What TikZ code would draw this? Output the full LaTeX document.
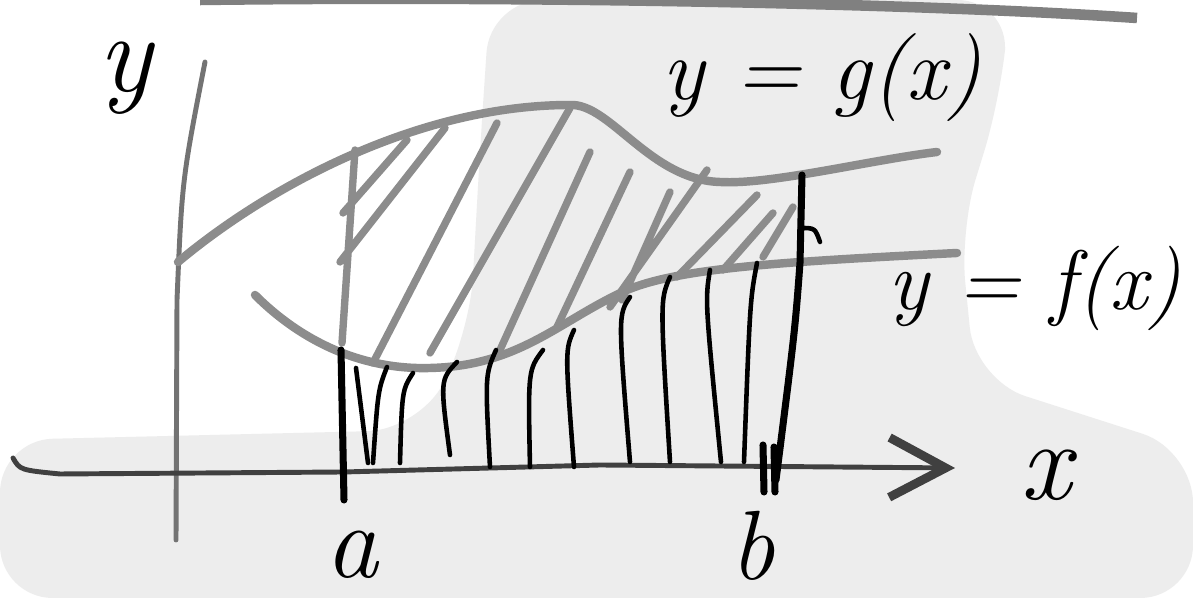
\documentclass[tikz,border=0pt]{standalone}
\usepackage{tikz}
\usetikzlibrary{arrows.meta}

\begin{document}
\begin{tikzpicture}[
          x=0.01cm, y=-0.01cm,
          every node/.style={inner sep=0pt},
          lab/.style={anchor=base},
          crv/.style={black!45,line width=2.4pt,line cap=round},
          hatch/.style={black!45,line width=2.1pt,line cap=round},
          drop/.style={black,line width=1.3pt,line cap=round},
          axis/.style={black!75,line width=1.4pt,line cap=round},
        ]
        \useasboundingbox (0,0) rectangle (1193,598);
        \fill[white] (0,0) rectangle (1193,598);
        \fill[black!7,rounded corners=15pt] (490,0) -- (1010,0) -- (1000,100) -- (960,230)
          -- (975,380) -- (1193,450) -- (1193,598) -- (0,598) -- (0,440) -- (420,430)
          -- (470,330) -- (480,150) -- cycle;
        \draw[black!50,line width=3pt] (200,0) .. controls (500,-4) and (900,2) .. (1137,18);
        \coordinate (ys) at (205,62);
        \coordinate (ye) at (176,540);
        \coordinate (xs) at (13,458);
        \coordinate (xe) at (955,468);
        \node[lab,font=\fontsize{32}{32}\selectfont\itshape] (ylab) at (125,92) {y};
        \node[lab,font=\fontsize{25}{25}\selectfont\itshape] (glab) at (822,100) {y = g(x)};
        \node[lab,font=\fontsize{24}{24}\selectfont\itshape] (flab) at (1035,310) {y = f(x)};
        \node[lab,font=\fontsize{30}{30}\selectfont\itshape] (alab) at (352,578) {a};
        \node[lab,font=\fontsize{28}{28}\selectfont\itshape] (blab) at (753,580) {b};
        \node[lab,font=\fontsize{32}{32}\selectfont\itshape] (xlab) at (1046,500) {x};
        % axes
        \draw[axis,black!55] (ys) .. controls (182,180) .. (177,300) -- (ye);
        \draw[axis,-{Straight Barb[length=16pt,width=17pt,line width=2.5pt]}] (xs)
          .. controls (20,470) .. (60,474) -- (344,472) -- (600,465) -- (xe);
        % the two curves
        \draw[crv] (178,262) .. controls (270,185) and (420,105) .. (570,105)
          .. controls (610,103) and (650,180) .. (720,182)
          .. controls (770,185) and (870,160) .. (937,152);
        \draw[crv] (255,295) .. controls (300,340) and (360,370) .. (430,368)
          .. controls (520,366) and (560,320) .. (627,290)
          .. controls (680,268) and (780,262) .. (957,253);
        % hatching between f and g
        \draw[hatch] (355,150) -- (342,343) (343,213) -- (407,140) (340,262) -- (445,128)
          (373,363) -- (497,123) (430,353) -- (570,108) (500,350) -- (590,152)
          (557,327) -- (630,172) (610,307) -- (707,170) (622,300) -- (670,192)
          (677,277) -- (757,195) (723,270) -- (773,213) (763,257) -- (793,207);
        % lines down to the x-axis
        \draw[drop,line width=2pt] (341,350) -- (344,500);
        \draw[drop] (356,368) -- (368,463);
        \draw[drop] (387,367) .. controls (378,390) .. (373,463);
        \draw[drop] (413,373) .. controls (402,390) .. (400,463);
        \draw[drop] (457,362) .. controls (440,380) .. (450,455);
        \draw[drop] (496,350) .. controls (485,375) .. (490,467);
        \draw[drop] (543,350) .. controls (528,370) .. (530,467);
        \draw[drop] (574,330) .. controls (565,350) .. (574,467);
        \draw[drop] (630,297) .. controls (618,315) .. (630,462);
        \draw[drop] (670,277) .. controls (660,300) .. (670,462);
        \draw[drop] (710,270) .. controls (705,300) .. (721,462);
        \draw[drop] (757,263) .. controls (750,300) .. (744,462);
        \draw[drop,line width=2pt] (802,175) -- (800,263) .. controls (795,330) .. (776,480);
        \draw[drop] (800,228) .. controls (815,228) .. (820,242);
        \draw[drop,line width=2pt] (763,445) -- (764,492) (774,447) -- (775,492);
      \end{tikzpicture}
\end{document}
